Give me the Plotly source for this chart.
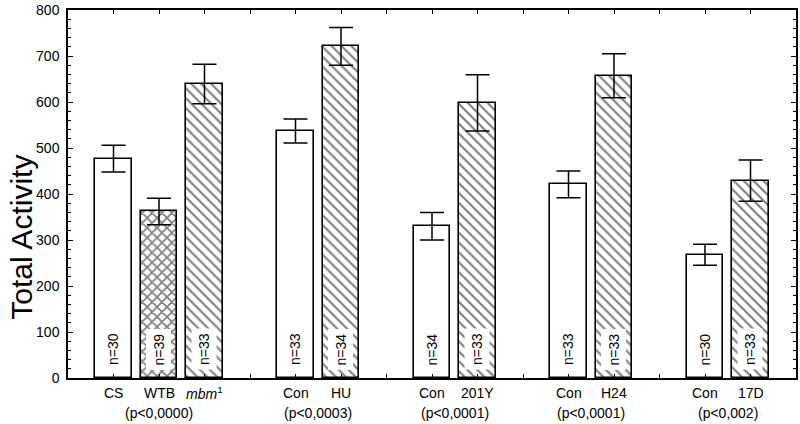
import plotly.graph_objects as go

# ---- data ----
groups = [["CS", "WTB", "mbm1"], ["Con", "HU"], ["Con", "201Y"], ["Con", "H24"], ["Con", "17D"]]
display_labels = ["CS", "WTB", "<i>mbm</i><sup>1</sup>", "Con", "HU", "Con", "201Y", "Con", "H24", "Con", "17D"]
means = [477, 362, 639, 537, 721, 330, 598, 421, 657, 268, 429]
sems = [29, 29, 43, 26, 41, 30, 61, 29, 48, 23, 45]
n_values = [30, 39, 33, 33, 34, 34, 33, 33, 33, 30, 33]
fills = ["open", "cross", "hatch", "open", "hatch", "open", "hatch", "open", "hatch", "open", "hatch"]
p_labels = ["(p<0,0000)", "(p<0,0003)", "(p<0,0001)", "(p<0,0001)", "(p<0,002)"]

# ---- positions: one empty slot between groups ----
positions = []
group_centers = []
pos = 1
for g in groups:
    gp = []
    for _ in g:
        gp.append(pos)
        pos += 1
    positions.extend(gp)
    group_centers.append(sum(gp) / len(gp))
    pos += 1
xmax = pos - 1

shape_map = {"open": "", "cross": "x", "hatch": "\\"}
solid_map = {"open": 0.3, "cross": 0.42, "hatch": 0.3}
size_map = {"open": 7, "cross": 7, "hatch": 7}
shapes = [shape_map[f] for f in fills]
solids = [solid_map[f] for f in fills]
sizes = [size_map[f] for f in fills]

FONT = "Liberation Sans, Arial, Helvetica, sans-serif"

fig = go.Figure()
fig.add_trace(go.Bar(
    x=positions,
    y=means,
    width=0.8,
    marker=dict(
        color="white",
        line=dict(color="black", width=1.6),
        pattern=dict(shape=shapes, fgcolor="black", bgcolor="white", size=sizes, solidity=solids),
    ),
    error_y=dict(type="data", array=sems, visible=True, color="black", thickness=1.5, width=12),
    showlegend=False,
    hoverinfo="skip",
))

annotations = []
for x, n, f in zip(positions, n_values, fills):
    ann = dict(
        x=x, y=62, xref="x", yref="y", text=f"n={n}", showarrow=False,
        textangle=-90, font=dict(family=FONT, size=14, color="black"),
        borderpad=4,
    )
    if f != "open":
        ann["bgcolor"] = "white"
    annotations.append(ann)
for x, lab in zip(positions, display_labels):
    annotations.append(dict(
        x=x, y=0, xref="x", yref="paper", yshift=-15, text=lab, showarrow=False,
        yanchor="middle", font=dict(family=FONT, size=14, color="black"),
    ))
for x, lab in zip(group_centers, p_labels):
    annotations.append(dict(
        x=x, y=0, xref="x", yref="paper", yshift=-35, text=lab, showarrow=False,
        yanchor="middle", font=dict(family=FONT, size=14, color="black"),
    ))
annotations.append(dict(
    x=-0.065, y=0.5, xref="paper", yref="paper", text="Total Activity", showarrow=False,
    textangle=-90, xanchor="center", yanchor="middle", yshift=-43,
    font=dict(family=FONT, size=30, color="black"),
))

fig.update_layout(
    width=800, height=424,
    margin=dict(l=68, r=2, t=6, b=46),
    plot_bgcolor="white", paper_bgcolor="white",
    annotations=annotations,
    bargap=0,
    xaxis=dict(
        range=[0, xmax], tickvals=list(range(1, xmax)), showticklabels=False,
        ticks="inside", ticklen=4, tickcolor="black", tickwidth=1,
        showline=True, linecolor="black", linewidth=1.5, mirror="ticks",
        showgrid=False, zeroline=False,
    ),
    yaxis=dict(
        range=[0, 800], dtick=100, ticks="inside", ticklen=5, tickcolor="black", tickwidth=1,
        showline=True, linecolor="black", linewidth=1.5, mirror="ticks",
        showgrid=False, zeroline=False,
        minor=dict(dtick=20, ticks="inside", ticklen=3, tickcolor="black"),
        tickfont=dict(family=FONT, size=14, color="black"),
        ticklabelstandoff=4, ticklabeloverflow="allow",
    ),
)

fig.write_html(
    "out.html",
    config={"displayModeBar": False},
    post_script="document.body.style.margin='0px';document.body.style.padding='0px';",
)
